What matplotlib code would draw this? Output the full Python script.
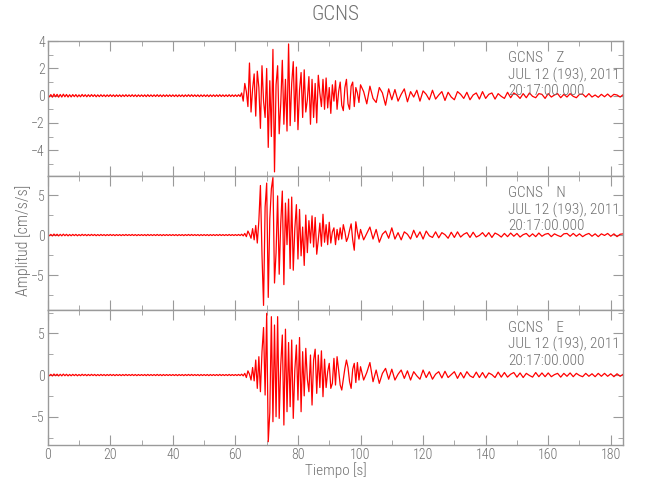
import numpy as np
import matplotlib
matplotlib.use("Agg")
import matplotlib.pyplot as plt
from matplotlib import font_manager
from matplotlib.ticker import MultipleLocator

# pre-event noise, 0 .. 61.5 s every 0.5 s (shared by the three components)
pre_noise = [
    0.10, -0.09, 0.08, -0.11, 0.12, -0.08, 0.10, -0.11,
    0.09, -0.10, 0.11, -0.08, 0.09, -0.10, 0.07, -0.09,
    0.08, -0.07, 0.08, -0.09, 0.06, -0.08, 0.09, -0.06,
    0.07, -0.08, 0.07, -0.07, 0.08, -0.06, 0.07, -0.08,
    0.06, -0.07, 0.07, -0.06, 0.06, -0.07, 0.06, -0.06,
    0.07, -0.06, 0.06, -0.07, 0.06, -0.06, 0.06, -0.07,
    0.06, -0.06, 0.07, -0.06, 0.06, -0.06, 0.07, -0.06,
    0.06, -0.07, 0.06, -0.06, 0.06, -0.06, 0.06, -0.07,
    0.07, -0.06, 0.06, -0.06, 0.06, -0.06, 0.07, -0.06,
    0.06, -0.07, 0.06, -0.06, 0.06, -0.06, 0.06, -0.06,
    0.06, -0.06, 0.06, -0.07, 0.06, -0.06, 0.06, -0.07,
    0.06, -0.06, 0.07, -0.06, 0.07, -0.06, 0.06, -0.06,
    0.06, -0.07, 0.06, -0.06, 0.06, -0.06, 0.06, -0.07,
    0.06, -0.06, 0.06, -0.06, 0.06, -0.06, 0.07, -0.06,
    0.06, -0.06, 0.06, -0.06, 0.07, -0.06, 0.06, -0.06,
    0.06, -0.06, 0.07, -0.06,
]

# strong motion, 62.0 .. 99.5 s every 0.5 s
z_strong = [
    0.2, -0.4, 0.9, 0.3, -0.8, 2.4, -1.2, 0.5,
    1.6, -1.5, 1.8, 0.6, -2.4, 2.2, -0.4, -1.6,
    2.0, -3.8, 1.1, -3.0, 3.4, -5.6, 0.8, 2.2,
    -2.8, -0.6, 2.6, -2.1, 1.2, -2.6, 3.8, -2.2,
    0.9, 2.5, -1.9, 2.1, -2.5, 0.4, 1.7, -1.6,
    1.9, -1.2, -0.3, 1.4, -2.1, 1.2, -1.6, 0.9,
    -2.0, 1.5, 0.2, -0.8, 1.2, -1.0, 1.3, -0.9,
    0.6, -1.3, 0.8, -0.4, 1.1, -1.0, 0.3, 1.0,
    -0.7, -1.1, 0.6, 1.2, -0.6, -1.0, 0.7, 1.0,
    -0.8, 0.6, 0.2, -0.5,
]
n_strong = [
    0.1, -0.1, 0.2, -0.2, 0.5, 0.1, -0.4, 0.8,
    -0.6, 1.2, -1.0, 1.8, 6.2, -2.5, -8.8, 3.5,
    6.5, -7.8, 2.0, 5.8, 7.2, -6.0, -2.2, 4.9,
    -4.9, 1.5, 5.5, -6.2, 4.0, -1.2, 4.5, -4.2,
    4.75, -4.4, 0.8, 3.8, -3.0, 3.2, -2.6, 1.0,
    -3.8, 2.5, -2.2, 1.8, -1.0, 2.4, -1.5, 2.2,
    -2.4, -0.6, 1.5, -1.4, 2.6, -0.9, 1.3, -1.2,
    1.6, -1.0, 0.4, 0.9, -1.2, 0.7, -0.6, 0.9,
    -0.5, 1.3, 0.4, -0.8, -0.3, 0.6, 1.4, -0.6,
    -1.9, 1.66, 0.4, -0.5,
]
e_strong = [
    0.1, -0.1, 0.2, -0.3, 0.5, 0.1, -0.6, 0.9,
    -0.7, 1.8, -1.6, 2.2, -2.0, 2.8, 5.7, -2.4,
    7.4, -8.0, -4.5, 7.0, -5.6, 6.0, -5.0, 7.0,
    -5.2, 1.2, 4.8, -6.0, 5.5, -4.4, 3.9, -3.8,
    4.2, -5.2, 0.6, 3.6, -3.0, 4.5, -4.4, 2.8,
    -2.5, 3.2, -0.5, -2.0, 2.4, -3.6, 1.8, 3.1,
    -2.2, 2.4, -1.5, 2.9, -2.6, 1.9, -1.5, 0.4,
    1.4, -1.6, -1.0, 2.0, -1.2, 2.2, 0.6, -1.2,
    -1.8, -0.5, 0.8, 1.8, 0.9, -0.8, -1.6, 0.7,
    1.4, -0.9, 1.5, -0.6,
]

# coda, 100 .. 184 s every 1 s
z_coda = [
    0.8, 0.3, -0.6, 0.7, -0.2, -0.5, 0.6, 0.2, -0.7, 0.5,
    -0.3, 0.45, -0.4, 0.1, 0.5, -0.45, 0.3, -0.1, 0.4, -0.4,
    0.35, 0.1, -0.3, 0.4, -0.25, 0.05, 0.3, -0.35, 0.25, -0.1,
    -0.3, 0.3, 0.1, -0.2, 0.25, -0.3, 0.05, 0.2, -0.25, 0.3,
    -0.2, 0.1, 0.2, -0.25, 0.15, -0.05, -0.2, 0.25, -0.15, 0.2,
    0.05, -0.2, 0.15, -0.15, 0.2, -0.05, -0.15, 0.15, 0.1, -0.2,
    0.15, -0.1, 0.05, 0.15, -0.15, 0.1, -0.1, 0.15, -0.05, -0.15,
    0.1, 0.12, -0.1, 0.15, -0.1, 0.05, -0.12, 0.1, -0.08, 0.12,
    -0.1, 0.1, 0.05, -0.1, 0.08,
]
n_coda = [
    0.7, -0.6, 0.2, 1.0, -0.5, 0.7, -0.9, 0.1, 0.5, -0.4,
    0.9, -0.5, 0.3, -0.6, 0.4, 0.1, -0.5, 0.6, -0.3, 0.4,
    -0.5, 0.5, -0.1, -0.3, 0.4, -0.35, 0.3, 0.05, -0.4, 0.35,
    -0.3, 0.4, -0.25, 0.1, 0.3, -0.3, 0.35, -0.25, -0.05, 0.3,
    -0.2, 0.3, -0.3, 0.25, 0.05, -0.25, 0.2, -0.2, 0.25, -0.15,
    0.2, -0.25, 0.05, 0.2, -0.2, 0.15, -0.2, 0.25, -0.15, 0.1,
    0.2, -0.2, 0.15, -0.05, -0.2, 0.15, 0.2, -0.15, 0.2, -0.15,
    0.15, -0.2, 0.05, 0.2, -0.15, 0.15, -0.2, 0.15, -0.05, 0.2,
    -0.15, 0.15, -0.2, 0.1, 0.15,
]
e_coda = [
    1.0, -0.6, 0.3, 1.5, -0.8, 0.6, -1.0, 0.2, 0.8, -0.5,
    0.7, -0.6, 0.1, 0.6, -0.4, 0.5, -0.6, 0.4, -0.1, -0.5,
    0.6, -0.3, 0.4, -0.5, 0.1, 0.4, -0.35, 0.45, -0.3, 0.05,
    0.4, -0.4, 0.3, -0.35, 0.4, -0.1, -0.3, 0.35, -0.3, 0.3,
    -0.35, 0.25, 0.05, -0.3, 0.35, -0.25, 0.3, -0.25, 0.1, 0.3,
    -0.25, 0.25, -0.3, 0.2, -0.05, -0.25, 0.3, -0.2, 0.25, -0.2,
    0.25, -0.2, 0.05, 0.2, -0.25, 0.2, -0.15, 0.25, -0.2, 0.2,
    -0.05, -0.2, 0.2, -0.15, 0.15, -0.2, 0.2, -0.15, 0.2, -0.15,
    0.15, -0.2, 0.15, -0.15, 0.1,
]

components = ["Z", "N", "E"]
station = "GCNS"
date_label = "JUL 12 (193), 2011"
time_label = "20:17:00.000"
ylims = [(-5.87, 4.04), (-9.43, 7.44), (-8.43, 7.75)]
major_steps = [2, 5, 5]
minor_steps = [1, 2.5, 2.5]

t = np.concatenate([np.arange(0, 62, 0.5), np.arange(62, 100, 0.5),
                    np.arange(100, 185, 1.0)])
traces = [
    np.concatenate([pre_noise, z_strong, z_coda]),
    np.concatenate([pre_noise, n_strong, n_coda]),
    np.concatenate([pre_noise, e_strong, e_coda]),
]

installed = {f.name for f in font_manager.fontManager.ttflist}
fam = "DejaVu Sans"
for cand in ["Liberation Sans Narrow", "Roboto Condensed", "Noto Sans Condensed",
             "DejaVu Sans Condensed", "Roboto"]:
    if cand in installed:
        fam = cand
        break
plt.rcParams["font.family"] = [fam, "DejaVu Sans"]
plt.rcParams["font.weight"] = "light"

txt_col = "#707070"
ax_col = "#9a9a9a"

fig = plt.figure(figsize=(6.5, 5), dpi=100)
left, width = 0.0734, 0.8855
bottom, total_h = 0.1094, 0.8092
h = total_h / 3

axes = []
for i in range(3):
    ax = fig.add_axes([left, bottom + (2 - i) * h, width, h])
    axes.append(ax)
    ax.plot(t, traces[i], color="red", lw=0.9)
    ax.set_xlim(0, 184)
    ax.set_ylim(*ylims[i])
    ax.xaxis.set_major_locator(MultipleLocator(20))
    ax.xaxis.set_minor_locator(MultipleLocator(10))
    ax.yaxis.set_major_locator(MultipleLocator(major_steps[i]))
    ax.yaxis.set_minor_locator(MultipleLocator(minor_steps[i]))
    ax.tick_params(which="both", direction="in", top=True, right=True,
                   color=ax_col, labelcolor=txt_col, labelsize=10, pad=2)
    ax.tick_params(which="major", length=7)
    ax.tick_params(which="minor", length=3.5)
    for s in ax.spines.values():
        s.set_color(ax_col)
        s.set_linewidth(1.0)
    if i < 2:
        ax.tick_params(labelbottom=False)
    ax.text(0.80, 0.87, station + "    " + components[i], transform=ax.transAxes,
            color=txt_col, fontsize=11, va="center")
    ax.text(0.80, 0.745, date_label, transform=ax.transAxes,
            color=txt_col, fontsize=11, va="center")
    ax.text(0.80, 0.627, time_label, transform=ax.transAxes,
            color=txt_col, fontsize=11, va="center")

fig.text(0.516, 0.97, station, ha="center", va="center", color=txt_col, fontsize=15)
fig.text(0.516, 0.06, "Tiempo [s]", ha="center", va="center", color=txt_col, fontsize=11)
fig.text(0.036, 0.52, "Amplitud [cm/s/s]", ha="center", va="center",
         rotation=90, color=txt_col, fontsize=11.5)

fig.savefig("out.png", dpi=100)
